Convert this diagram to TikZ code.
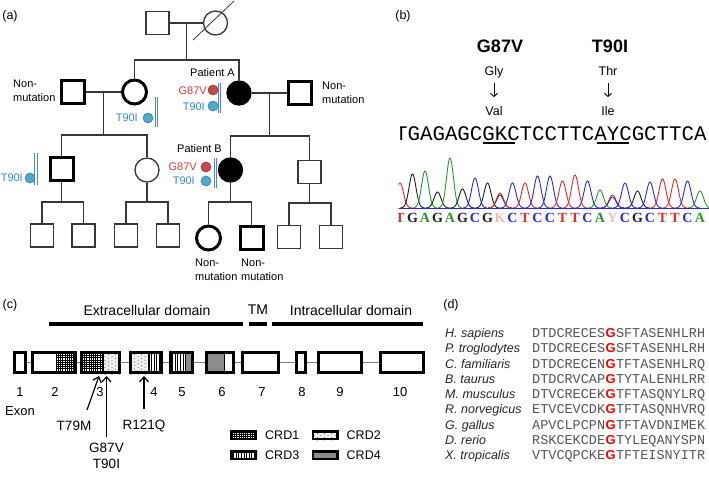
\documentclass[tikz,border=0pt]{standalone}
\usepackage{fontspec}
\setmainfont{Liberation Sans}
\setmonofont{Liberation Mono}
\newfontfamily\chromfont{Liberation Serif}
\usepackage{tikz}
\usetikzlibrary{arrows.meta, positioning}

\definecolor{pedline}{RGB}{55,55,55}
\definecolor{mutred}{RGB}{215,55,55}
\definecolor{dotred}{RGB}{195,75,75}
\definecolor{mutblue}{RGB}{45,140,200}
\definecolor{dotblue}{RGB}{75,170,205}
\definecolor{barblue}{RGB}{80,130,215}
\definecolor{baseA}{RGB}{40,150,40}
\definecolor{baseC}{RGB}{40,40,225}
\definecolor{baseG}{RGB}{30,30,30}
\definecolor{baseT}{RGB}{230,40,40}
\definecolor{baseN}{RGB}{250,185,185}
\definecolor{seqgray}{RGB}{85,85,85}
\definecolor{crdgray}{RGB}{140,140,140}

\tikzstyle{male} = [rectangle, draw=pedline, line width=1.3pt, minimum size=23pt, inner sep=0pt]
\tikzstyle{female} = [circle, draw=pedline, line width=1.3pt, minimum size=24pt, inner sep=0pt]
\tikzstyle{nonmut} = [line width=3pt, draw=black]
\tikzstyle{affected} = [fill=black, draw=black]
\tikzstyle{pedlink} = [draw=pedline, line width=1.3pt]
\tikzstyle{lab} = [font=\fontsize{11}{14}\selectfont, inner sep=0pt]
\tikzstyle{panel} = [font=\fontsize{12.5}{15}\selectfont, inner sep=0pt]
\tikzstyle{vardot} = [circle, minimum size=10pt, inner sep=0pt, line width=0.6pt]
\tikzstyle{varbar} = [draw=barblue, double=white, double distance=1.6pt, line width=0.9pt]
\tikzstyle{aa} = [font=\fontsize{12.5}{15}\selectfont, inner sep=0pt, text height=9pt, text depth=2.6pt]
\tikzstyle{aaarrow} = [line width=0.9pt, -{Straight Barb[length=3pt, width=7pt]}, shorten <=5.5pt, shorten >=9pt]
\tikzstyle{exon} = [rectangle, draw=black, line width=2.6pt, minimum height=20.5pt, inner sep=0pt]
\tikzstyle{intron} = [draw=gray, line width=1pt]
\tikzstyle{domlab} = [font=\fontsize{14}{16}\selectfont, inner sep=0pt]
\tikzstyle{domainbar} = [line width=4pt]
\tikzstyle{numlab} = [font=\fontsize{13}{15}\selectfont, inner sep=0pt]
\tikzstyle{mutlab} = [font=\fontsize{13.5}{16}\selectfont, inner sep=1pt]
\tikzstyle{mutarrow} = [line width=1.2pt, -{Straight Barb[length=5pt, width=9pt]}]
\tikzstyle{legbox} = [rectangle, draw=black, line width=2.5pt, minimum width=24.5pt, minimum height=7.5pt, inner sep=0pt]
\tikzstyle{leglab} = [font=\fontsize{12.5}{15}\selectfont, inner sep=0pt]
\tikzstyle{species} = [font=\fontsize{12.5}{15}\selectfont\itshape, text=black!85, inner sep=0pt]
\tikzstyle{seqtxt} = [font=\fontsize{13.5}{15}\ttfamily, text=seqgray, inner sep=0pt]
\tikzstyle{conserved} = [font=\fontsize{13}{15}\selectfont\bfseries, text=red, inner sep=0pt]

% CRD fills
\newcommand{\crdgrid}[4]{\begin{scope}\clip (#1,#2) rectangle (#3,#4);
  \foreach \k in {0,...,14} {\draw[line width=0.6pt] (#1+\k*2.2,#2) -- (#1+\k*2.2,#4);
    \draw[line width=0.6pt] (#1,#2+\k*2.2) -- (#3,#2+\k*2.2);}\end{scope}}
\newcommand{\crdvlines}[4]{\begin{scope}\clip (#1,#2) rectangle (#3,#4);
  \foreach \k in {0,...,10} {\draw[line width=0.7pt] (#1+1+\k*2.6,#2) -- (#1+1+\k*2.6,#4);}\end{scope}}
\newcommand{\crddots}[4]{\begin{scope}\clip (#1,#2) rectangle (#3,#4);
  \fill[black!6] (#1,#2) rectangle (#3,#4);
  \foreach \k in {0,...,7} {\foreach \m in {0,...,6} {\fill[black!55] ({#1+2+\k*3.5},{#2+2+\m*3.6+mod(\k,2)*1.8}) circle (0.6pt);}}\end{scope}}
\newcommand{\crdgray}[4]{\fill[crdgray] (#1,#2) rectangle (#3,#4);}

\begin{document}
\begin{tikzpicture}[x=1pt, y=-1pt]
    \useasboundingbox (0,0) rectangle (709,478);

    % (a) pedigree
    \node (tag-a) [panel] at (10,16) {(a)};
    \node (gf) [male] at (157.5,23) {};
    \node (gm) [female] at (215.5,23) {};
    \draw [pedline, line width=0.8pt] (193,40) -- (234,1);
    \draw [pedlink] (gf) -- coordinate (j0) (gm);
    \draw [pedlink] (j0) -- ++(0,37) coordinate (b0);

    \node (nm1) [male, nonmut] at (72.5,92) {};
    \node (mo) [female, nonmut] at (134.5,92) {};
    \node (pa) [female, affected] at (239,93) {};
    \node (nm2) [male, nonmut] at (300,93) {};
    \draw [pedlink] (mo) |- (b0) -| (pa);
    \draw [pedlink] (nm1) -- coordinate (j1) (mo);
    \draw [pedlink] (pa) -- coordinate (j2) (nm2);
    \draw [pedlink] (j1) -- ++(0,43) coordinate (b1);
    \draw [pedlink] (j2) -- ++(0,43) coordinate (b2);

    \node (sonL) [male, nonmut] at (61.5,169.5) {};
    \node (dau) [female] at (147,170) {};
    \node (pb) [female, affected] at (230.5,170) {};
    \node (sonR) [male] at (309.5,172) {};
    \draw [pedlink] (sonL) |- (b1) -| (dau);
    \draw [pedlink] (pb) |- (b2) -| (sonR);

    \node (gc1) [male] at (42,235.5) {};
    \node (gc2) [male] at (83.5,235.5) {};
    \node (gc3) [male] at (126,235.5) {};
    \node (gc4) [male] at (168,235.5) {};
    \node (gc5) [female, nonmut] at (208.5,238) {};
    \node (gc6) [male, nonmut] at (251.5,238) {};
    \node (gc7) [male] at (289,237) {};
    \node (gc8) [male] at (331,237) {};
    \draw [pedlink] (sonL) -- ++(0,32.5) coordinate (b3);
    \draw [pedlink] (dau) -- ++(0,32) coordinate (b4);
    \draw [pedlink] (pb) -- ++(0,32) coordinate (b5);
    \draw [pedlink] (sonR) -- ++(0,31) coordinate (b6);
    \draw [pedlink] (gc1) |- (b3) -| (gc2);
    \draw [pedlink] (gc3) |- (b4) -| (gc4);
    \draw [pedlink] (gc5) |- (b5) -| (gc6);
    \draw [pedlink] (gc7) |- (b6) -| (gc8);

    \node (nmlab1) [lab, anchor=west, align=left] at (13,90.5) {Non-\\mutation};
    \node (nmlab2) [lab, anchor=west, align=left] at (322,93) {Non-\\mutation};
    \node (nmlab3) [lab, anchor=west, align=left] at (195,269.5) {Non-\\mutation};
    \node (nmlab4) [lab, anchor=west, align=left] at (241,269.5) {Non-\\mutation};
    \node (palab) [lab] at (212.5,73) {Patient A};
    \node (pblab) [lab] at (199.5,149) {Patient B};

    % variants
    \node (mo-t) [lab, text=mutblue, anchor=east] at (138,118) {T90I};
    \node (mo-d) [vardot, fill=dotblue, draw=dotblue!75!black] at (148,118) {};
    \draw [varbar] (156.5,97) -- (156.5,127);
    \node (pa-g) [lab, text=mutred, anchor=east] at (207,91) {G87V};
    \node (pa-gd) [vardot, fill=dotred, draw=dotred!75!black] at (213,90) {};
    \node (pa-t) [lab, text=mutblue, anchor=east] at (205,107) {T90I};
    \node (pa-td) [vardot, fill=dotblue, draw=dotblue!75!black] at (213,106) {};
    \draw [varbar] (219.5,83) -- (219.5,113);
    \node (pb-g) [lab, text=mutred, anchor=east] at (197,167) {G87V};
    \node (pb-gd) [vardot, fill=dotred, draw=dotred!75!black] at (206,167) {};
    \node (pb-t) [lab, text=mutblue, anchor=east] at (195,181) {T90I};
    \node (pb-td) [vardot, fill=dotblue, draw=dotblue!75!black] at (206,181) {};
    \draw [varbar] (215.5,158) -- (215.5,188);
    \node (sl-t) [lab, text=mutblue, anchor=east] at (23,178) {T90I};
    \node (sl-d) [vardot, fill=dotblue, draw=dotblue!75!black] at (30,178) {};
    \draw [varbar] (36,153) -- (36,185);

    % (b) sequencing
    \node (tag-b) [panel] at (403,16) {(b)};
    \node (gv) [font=\fontsize{18}{20}\selectfont\bfseries, inner sep=0pt] at (500,46.5) {G87V};
    \node (ti) [font=\fontsize{18}{20}\selectfont\bfseries, inner sep=0pt] at (610,46.5) {T90I};
    \node (gly) [aa] at (494,72) {Gly};
    \node (val) [aa] at (494,112) {Val};
    \node (thr) [aa] at (608,72) {Thr};
    \node (ile) [aa] at (608,112) {Ile};
    \draw [aaarrow] (gly) -- (val);
    \draw [aaarrow] (thr) -- (ile);

    \begin{scope}
        \clip (400.3,110) rectangle (709,150);
        \node (seq) [anchor=base west, font=\fontsize{20.75}{22}\ttfamily, inner sep=0pt] at (395,141) {TGAGAGCGKCTCCTTCAYCGCTTCA};
    \end{scope}
    \draw [line width=2pt] (483,143.5) -- (515,143.5);
    \draw [line width=2pt] (597,143.5) -- (629,143.5);

    \begin{scope}
        \clip (398.5,150) rectangle (709,230);
        \foreach \i/\b/\h in {0/T/25, 1/G/34, 2/A/37, 3/G/16, 4/A/50, 5/G/19, 6/C/30, 7/G/25,
            8/G/13, 8/T/15, 9/C/25, 10/T/25, 11/C/32, 12/C/32, 13/T/27, 14/T/33, 15/C/27, 16/A/18,
            17/T/13, 17/C/11, 18/C/25, 19/G/17, 20/C/26, 21/T/29, 22/T/29, 23/C/27, 24/A/17}
            \draw [base\b, line width=0.9pt] plot[domain=-12:12, samples=37, smooth]
                ({400+12.5*\i+\x}, {208-\h*exp(-((\x)*(\x))/24)});
        \draw [baseC, line width=1pt] (398,208.5) -- (709,208.5);
        \foreach \b/\c [count=\i from 0] in {T/T,G/G,A/A,G/G,A/A,G/G,C/C,G/G,K/N,C/C,T/T,C/C,C/C,
            T/T,T/T,C/C,A/A,Y/N,C/C,G/G,C/C,T/T,T/T,C/C,A/A}
            \node (call\i) [font=\fontsize{14}{16}\chromfont\bfseries, text=base\c, inner sep=0pt, anchor=base] at (400+12.5*\i,223) {\b};
    \end{scope}

    % (c) exon structure
    \node (tag-c) [panel] at (10,305) {(c)};
    \node (ecd) [domlab] at (147,310) {Extracellular domain};
    \node (tm) [domlab] at (258,310) {TM};
    \node (icd) [domlab] at (351,310) {Intracellular domain};
    \draw [domainbar] (49,324) -- (243,324);
    \draw [domainbar] (249,324) -- (267,324);
    \draw [domainbar] (272,324) -- (423,324);

    \crdgrid{56}{351}{77}{374}
    \crdgrid{80}{351}{103}{374}
    \crddots{103}{351}{121}{374}
    \crddots{129}{351}{148}{374}
    \crdvlines{148}{351}{163}{374}
    \crdvlines{169}{351}{185}{374}
    \crdgray{185}{351}{194}{374}
    \crdgray{205}{351}{224}{374}
    \foreach \d in {56,103,148,185,224}
        \draw [line width=0.9pt] (\d,351) -- (\d,374);

    \node (e1) [exon, minimum width=11.5pt] at (20,362.5) {};
    \node (e2) [exon, minimum width=43.5pt] at (54,362.5) {};
    \node (e3) [exon, minimum width=38.5pt] at (100.5,362.5) {};
    \node (e4) [exon, minimum width=31.5pt] at (146,362.5) {};
    \node (e5) [exon, minimum width=22.5pt] at (181.5,362.5) {};
    \node (e6) [exon, minimum width=27.5pt] at (220,362.5) {};
    \node (e7) [exon, minimum width=36.5pt] at (260.5,362.5) {};
    \node (e8) [exon, minimum width=9.5pt] at (301,362.5) {};
    \node (e9) [exon, minimum width=43.5pt] at (340,362.5) {};
    \node (e10) [exon, minimum width=43.5pt] at (402,362.5) {};
    \foreach \a/\b in {1/2,2/3,3/4,4/5,5/6,6/7,7/8,8/9,9/10}
        \draw [intron] (e\a) -- (e\b);

    \foreach \n/\x in {1/20,2/55,3/100,4/154,5/182,6/222,7/262,8/302,9/340,10/400}
        \node (num\n) [numlab] at (\x,392) {\n};
    \node (exlab) [numlab] at (20,411) {Exon};

    \coordinate (p79) at (99,376);
    \coordinate (p87) at (106.5,376);
    \coordinate (p121) at (144,376);
    \node (t79m) [mutlab] at (74,426) {T79M};
    \node (g87v) [mutlab, align=center] at (106.5,456) {G87V\\T90I};
    \node (r121q) [mutlab] at (144,426) {R121Q};
    \draw [mutarrow] (t79m.north) ++(13,-10) -- (p79);
    \draw [mutarrow, shorten <=5pt] (g87v) -- (p87);
    \draw [mutarrow, shorten <=10pt] (r121q) -- (p121);

    \crdgrid{230}{430}{257}{440}
    \crddots{312}{430}{338}{440}
    \crdvlines{230}{450}{257}{460}
    \crdgray{312}{450}{338}{460}
    \node (leg1) [legbox] at (243.5,435) {};
    \node (leg2) [legbox] at (325,435) {};
    \node (leg3) [legbox] at (243.5,455) {};
    \node (leg4) [legbox] at (325,455) {};
    \node (leg1t) [leglab, right=8pt of leg1] {CRD1};
    \node (leg2t) [leglab, right=8pt of leg2] {CRD2};
    \node (leg3t) [leglab, right=8pt of leg3] {CRD3};
    \node (leg4t) [leglab, right=8pt of leg4] {CRD4};

    % (d) alignment
    \node (tag-d) [panel] at (451,305) {(d)};
    \foreach \sp/\pre/\post [count=\i from 0] in {H. sapiens/DTDCRECES/SFTASENHLRH,
        P. troglodytes/DTDCRECES/SFTASENHLRH, C. familiaris/DTDCRECEN/TFTASENHLRQ,
        B. taurus/DTDCRVCAP/TYTALENHLRR, M. musculus/DTVCRECEK/TFTASQNYLRQ,
        R. norvegicus/ETVCEVCDK/TFTASQNHVRQ, G. gallus/APVCLPCPN/TFTAVDNIMEK,
        D. rerio/RSKCEKCDE/TYLEQANYSPN, X. tropicalis/VTVCQPCKE/TFTEISNYITR} {
        \node (sp\i) [species, anchor=base west] at (445,337.5+15.25*\i) {\sp};
        \node (pre\i) [seqtxt, anchor=base west] at (532,337.5+15.25*\i) {\pre};
        \node (g\i) [conserved, anchor=base west] at (pre\i.base east) {G};
        \node (post\i) [seqtxt, anchor=base west] at (g\i.base east) {\post};
    }
\end{tikzpicture}
\end{document}
